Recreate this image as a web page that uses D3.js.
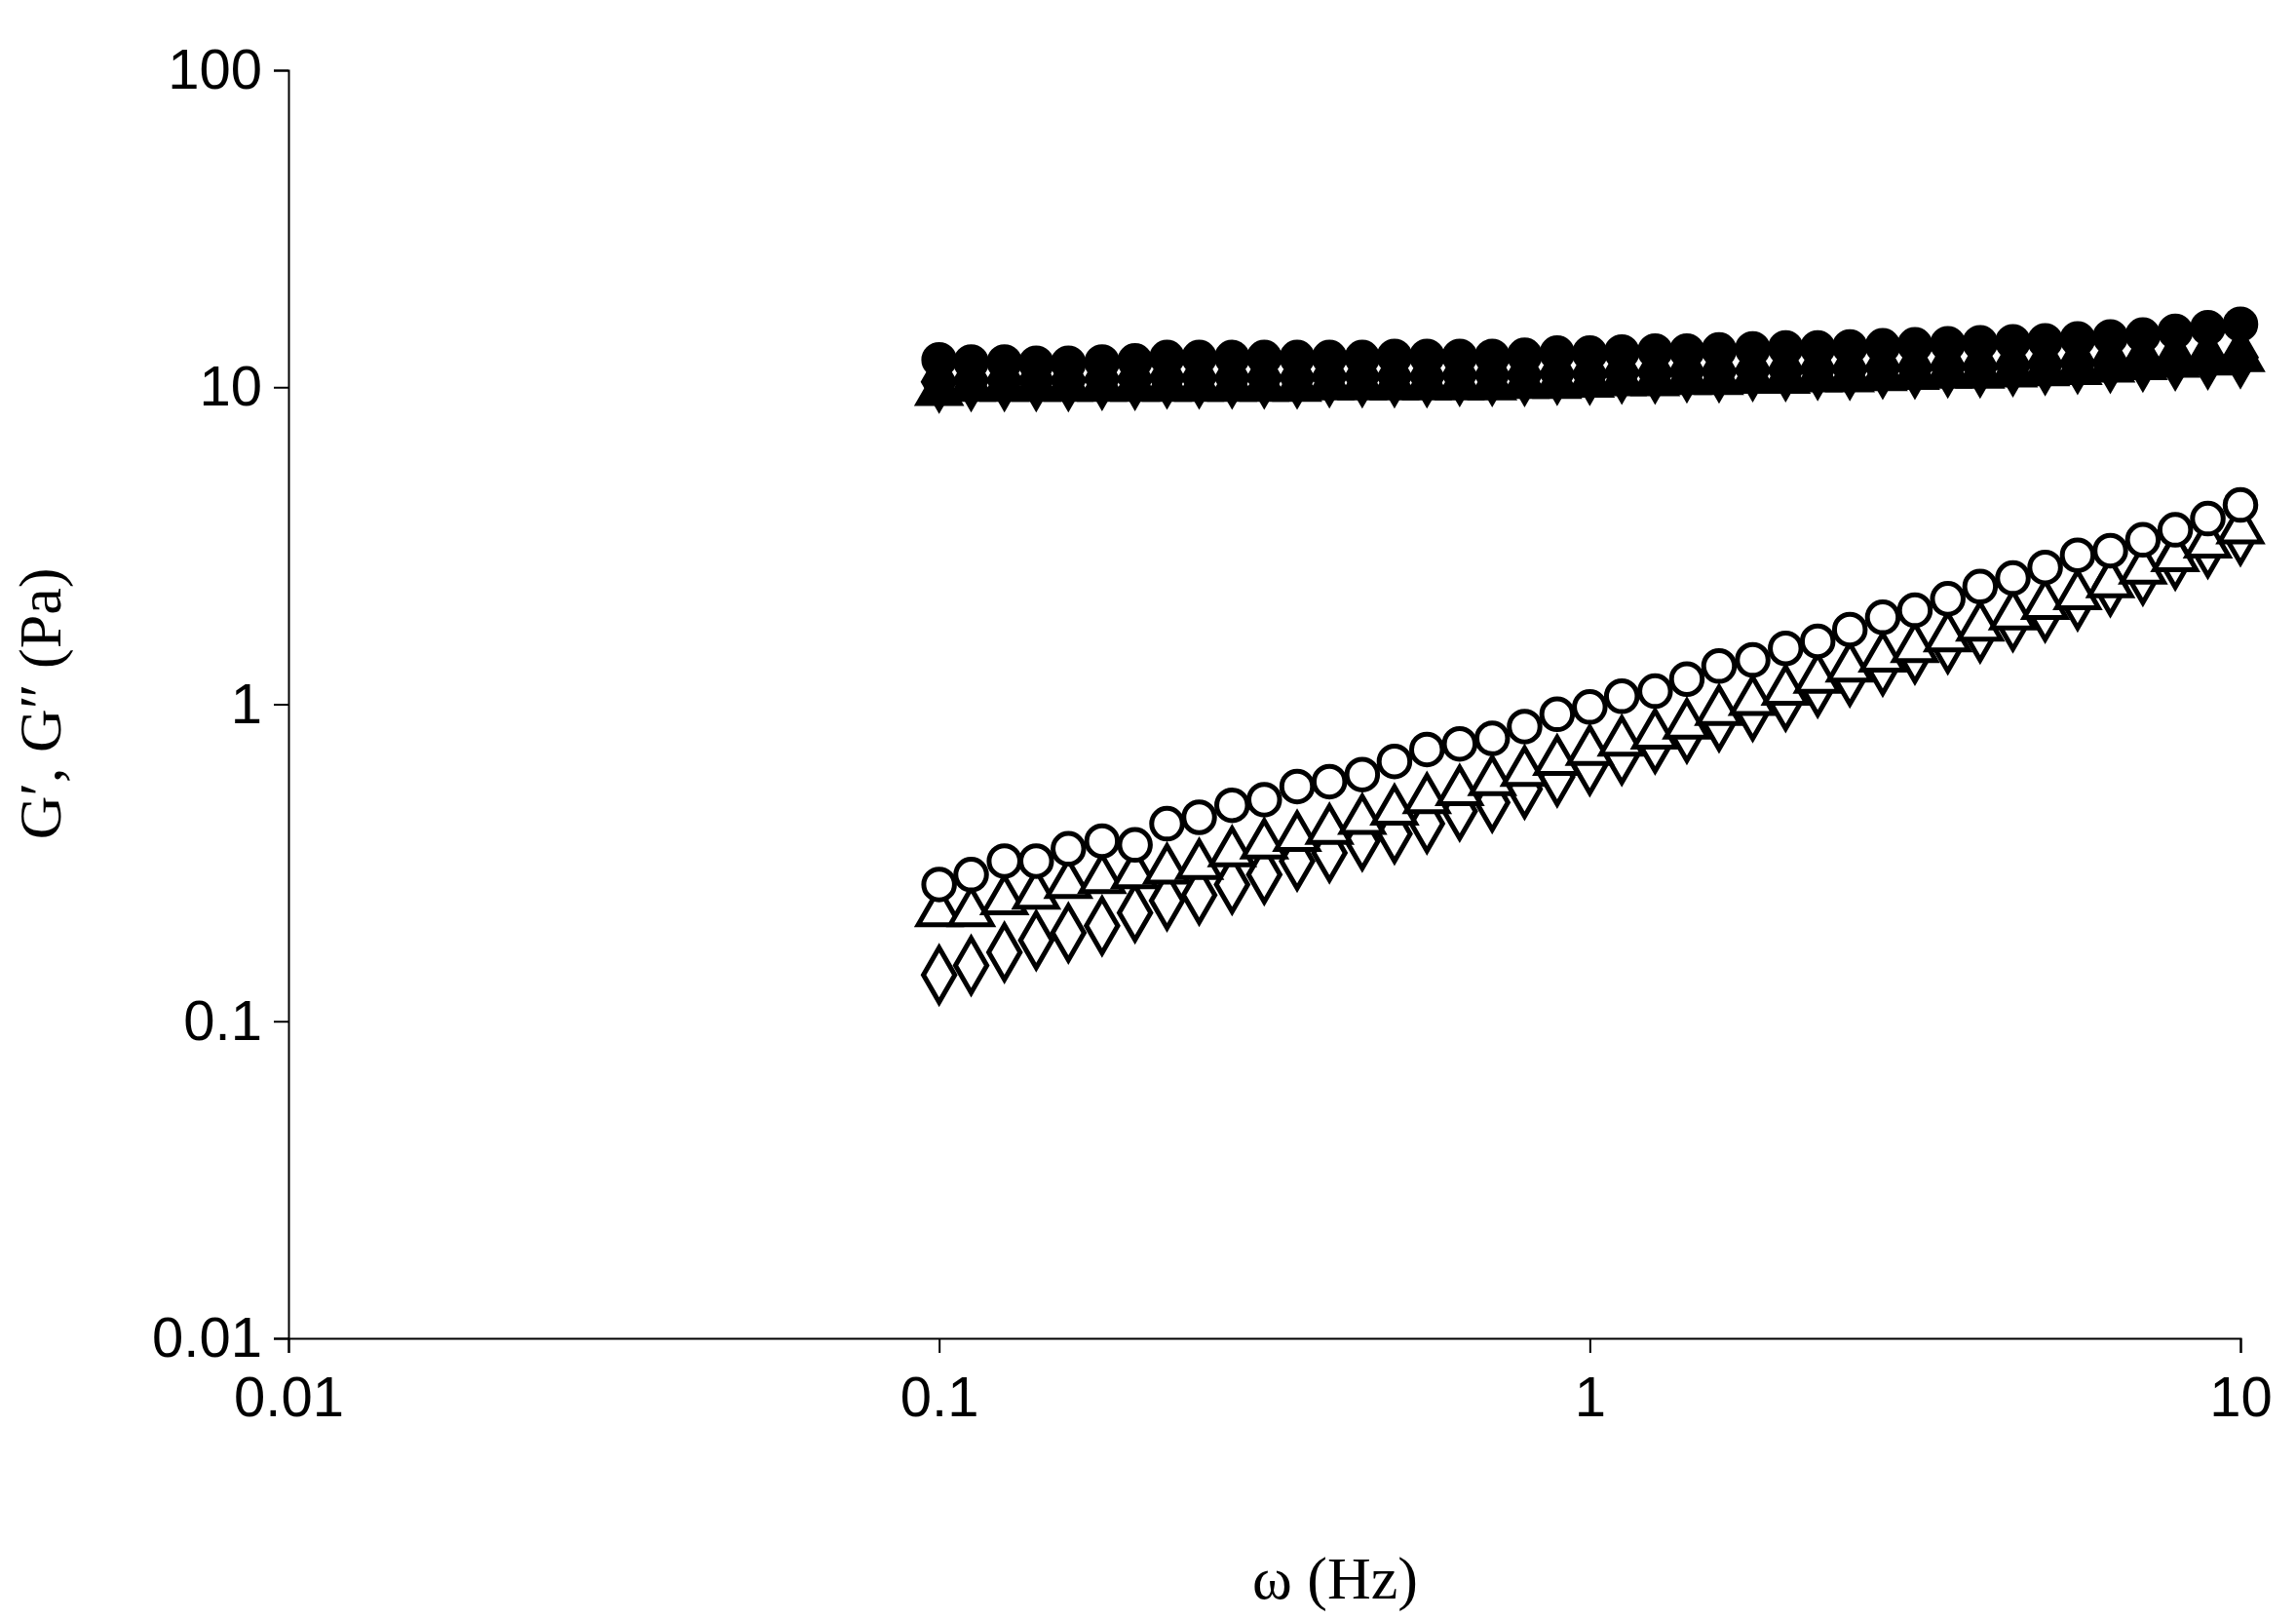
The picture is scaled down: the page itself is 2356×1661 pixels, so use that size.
<!DOCTYPE html>
<html>
<head>
<meta charset="utf-8">
<script src="https://cdn.jsdelivr.net/npm/d3@7"></script>
<style>
  body { margin: 0; background: #fff; }
  .tick text { font-family: "Liberation Sans", Arial, sans-serif; font-size: 58px; }
  .axis-label { font-family: "Liberation Serif", "Times New Roman", serif; font-size: 62px; }
</style>
</head>
<body>
<div id="chart"></div>
<script>
const freq = [0.1,0.112,0.126,0.141,0.158,0.178,0.2,0.224,0.251,0.282,0.316,0.355,0.398,0.447,0.501,0.562,0.631,0.708,0.794,0.891,
  1,1.12,1.26,1.41,1.58,1.78,2,2.24,2.51,2.82,3.16,3.55,3.98,4.47,5.01,5.62,6.31,7.08,7.94,8.91,10];

// storage modulus G' (filled)
const gpCircle = [12.2,12.0,12.0,11.9,11.9,12.0,12.1,12.4,12.4,12.4,12.4,12.4,12.4,12.4,12.5,12.5,12.5,12.5,12.6,12.8,
  12.8,12.9,13.0,13.0,13.1,13.2,13.3,13.3,13.4,13.5,13.6,13.7,13.8,13.9,14.0,14.2,14.4,14.6,15.0,15.4,15.8];
const gpTriangle = [9.7,10.0,10.0,10.0,10.0,10.0,10.0,10.0,10.0,10.0,10.0,10.0,10.1,10.1,10.1,10.1,10.1,10.1,10.2,10.2,
  10.3,10.4,10.4,10.5,10.5,10.6,10.6,10.7,10.7,10.8,10.9,11.0,11.0,11.1,11.2,11.3,11.5,11.7,11.9,12.1,12.4];
const gpDiamond = [10.4,10.5,10.5,10.5,10.5,10.6,10.6,10.7,10.7,10.7,10.7,10.7,10.8,10.8,10.8,10.8,10.9,10.9,10.9,11.0,
  11.0,11.1,11.1,11.2,11.2,11.3,11.3,11.4,11.4,11.5,11.5,11.6,11.6,11.7,11.8,11.9,12.0,12.1,12.2,12.3,12.4];

// loss modulus G" (open)
const gppCircle = [0.27,0.29,0.32,0.32,0.35,0.37,0.36,0.42,0.44,0.48,0.50,0.55,0.57,0.60,0.66,0.72,0.75,0.78,0.85,0.93,
  0.98,1.06,1.10,1.20,1.32,1.38,1.50,1.58,1.72,1.88,1.98,2.15,2.35,2.50,2.70,2.95,3.05,3.30,3.55,3.85,4.25];
const gppTriangle = [0.22,0.22,0.24,0.25,0.27,0.28,0.29,0.30,0.31,0.34,0.36,0.38,0.40,0.43,0.46,0.50,0.53,0.57,0.61,0.66,
  0.71,0.76,0.80,0.86,0.95,1.02,1.10,1.20,1.30,1.40,1.50,1.62,1.75,1.90,2.05,2.20,2.40,2.65,2.90,3.20,3.55];
const gppDiamond = [0.14,0.15,0.165,0.18,0.19,0.20,0.22,0.24,0.25,0.27,0.29,0.32,0.34,0.37,0.39,0.42,0.46,0.49,0.54,0.59,
  0.64,0.69,0.75,0.81,0.88,0.95,1.02,1.13,1.22,1.32,1.44,1.55,1.68,1.82,1.95,2.12,2.35,2.55,2.85,3.10,3.40];

const xTicks = [0.01, 0.1, 1, 10];
const yTicks = [0.01, 0.1, 1, 10, 100];

const width = 2356, height = 1661;
const margin = { top: 72, right: 57, bottom: 288, left: 296 };

const svg = d3.select('#chart').append('svg')
    .attr('width', width)
    .attr('height', height);

const x = d3.scaleLog().domain([0.01, 10]).range([margin.left, width - margin.right]);
const y = d3.scaleLog().domain([0.01, 100]).range([height - margin.bottom, margin.top]);

// Y axis
svg.append('g')
    .attr('transform', `translate(${margin.left},0)`)
    .call(d3.axisLeft(y).tickValues(yTicks).tickFormat(d3.format('~g')).tickSize(15).tickPadding(12))
    .call(g => g.selectAll('line, path').attr('stroke', '#000').attr('stroke-width', 2));

// X axis
svg.append('g')
    .attr('transform', `translate(0,${height - margin.bottom})`)
    .call(d3.axisBottom(x).tickValues(xTicks).tickFormat(d3.format('~g')).tickSize(15).tickPadding(24))
    .call(g => g.selectAll('line, path').attr('stroke', '#000').attr('stroke-width', 2));

const series = [
  { values: gppDiamond, type: d3.symbolDiamond, size: 900, fill: '#fff' },
  { values: gppTriangle, type: d3.symbolTriangle, size: 800, fill: '#fff' },
  { values: gppCircle, type: d3.symbolCircle, size: 780, fill: '#fff' },
  { values: gpDiamond, type: d3.symbolDiamond, size: 900, fill: '#000' },
  { values: gpTriangle, type: d3.symbolTriangle, size: 800, fill: '#000' },
  { values: gpCircle, type: d3.symbolCircle, size: 780, fill: '#000' }
];

series.forEach(s => {
  svg.append('g').selectAll('path')
      .data(s.values)
      .join('path')
      .attr('transform', (d, i) => `translate(${x(freq[i])},${y(d)})`)
      .attr('d', d3.symbol().type(s.type).size(s.size))
      .attr('fill', s.fill)
      .attr('stroke', '#000')
      .attr('stroke-width', 5);
});

// axis labels
svg.append('text')
    .attr('class', 'axis-label')
    .attr('x', 1370)
    .attr('y', 1640)
    .style('text-anchor', 'middle')
    .text('ω (Hz)');

svg.append('text')
    .attr('class', 'axis-label')
    .attr('transform', 'translate(62,722) rotate(-90)')
    .style('text-anchor', 'middle')
    .text('G′, G″ (Pa)');
</script>
</body>
</html>
